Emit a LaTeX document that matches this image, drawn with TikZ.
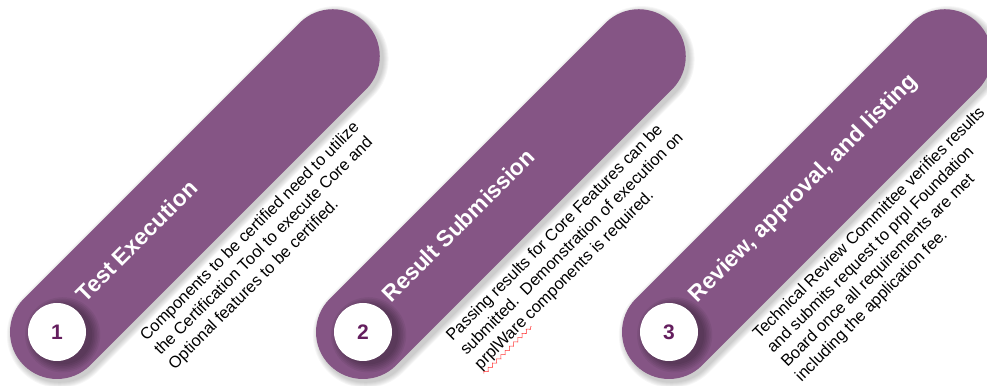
\documentclass[tikz,border=0pt]{standalone}
\usepackage{fontspec}
\setmainfont{Liberation Sans}
\usetikzlibrary{shapes.misc,decorations.pathmorphing}
\definecolor{prplviolet}{HTML}{855585}
\definecolor{prpldeep}{HTML}{641E5E}

\begin{document}
\begin{tikzpicture}[
    x=0.5pt,y=0.5pt,
    pill/.style={rounded rectangle,fill=prplviolet,minimum width=242pt,minimum height=47pt,inner sep=0pt,rotate=45},
    pillshade/.style={rounded rectangle,fill=black,opacity=0.035,inner sep=0pt,rotate=45},
    badge/.style={circle,fill=white,minimum size=29pt,inner sep=0pt,text=prpldeep,font=\fontsize{10.5}{12}\selectfont\bfseries},
    title/.style={anchor=base west,inner sep=0pt,rotate=45,text=white,font=\fontsize{11.4}{13}\selectfont\bfseries},
    desc/.style={anchor=north west,inner sep=0pt,rotate=45,align=left,font=\fontsize{8.2}{10}\selectfont},
    squiggle/.style={red!80,line width=0.3pt,decorate,decoration={zigzag,segment length=3pt,amplitude=0.8pt}}
  ]
  \useasboundingbox (0,0) rectangle (987,386);
  \clip (0,0) rectangle (987,386);

  %% Step 1
  \begin{scope}[shift={(57,54)},rotate=45]
    \foreach \g in {1,...,6}
      \node[pillshade,minimum width=242pt+\g pt,minimum height=47pt+\g pt] at (195,-4) {};
    \node[pill] (pill1) at (195,0) {};
    \foreach \g in {1,...,6}
      \fill[black,opacity=0.06] (2,-6) circle ({28+1.6*\g});
    \node[badge] (num1) at (0,0) {1};
    \node[title] (head1) at (40,0) {Test Execution};
    \node[desc] (text1) at (56,-58) {Components to be certified need to utilize\\
      the Certification Tool to execute Core and\\
      Optional features to be certified.};
  \end{scope}

  %% Step 2
  \begin{scope}[shift={(363,54)},rotate=45]
    \foreach \g in {1,...,6}
      \node[pillshade,minimum width=242pt+\g pt,minimum height=47pt+\g pt] at (195,-4) {};
    \node[pill] (pill2) at (195,0) {};
    \foreach \g in {1,...,6}
      \fill[black,opacity=0.06] (2,-6) circle ({28+1.6*\g});
    \node[badge] (num2) at (0,0) {2};
    \node[title] (head2) at (40,0) {Result Submission};
    \node[desc] (text2) at (56,-58) {Passing results for Core Features can be\\
      submitted.\ \ Demonstration of execution on\\
      prplWare components is required.};
    \coordinate (wave2a) at (56,-115);
    \coordinate (wave2b) at (123,-115);
    \draw[squiggle] (wave2a) -- (wave2b);
  \end{scope}

  %% Step 3
  \begin{scope}[shift={(669,54)},rotate=45]
    \foreach \g in {1,...,6}
      \node[pillshade,minimum width=242pt+\g pt,minimum height=47pt+\g pt] at (195,-4) {};
    \node[pill] (pill3) at (195,0) {};
    \foreach \g in {1,...,6}
      \fill[black,opacity=0.06] (2,-6) circle ({28+1.6*\g});
    \node[badge] (num3) at (0,0) {3};
    \node[title] (head3) at (40,0) {Review, approval, and listing};
    \node[desc] (text3) at (58,-57) {Technical Review Committee verifies results\\
      and submits request to prpl Foundation\\
      Board once all requirements are met\\
      including the application fee.};
  \end{scope}
\end{tikzpicture}
\end{document}
